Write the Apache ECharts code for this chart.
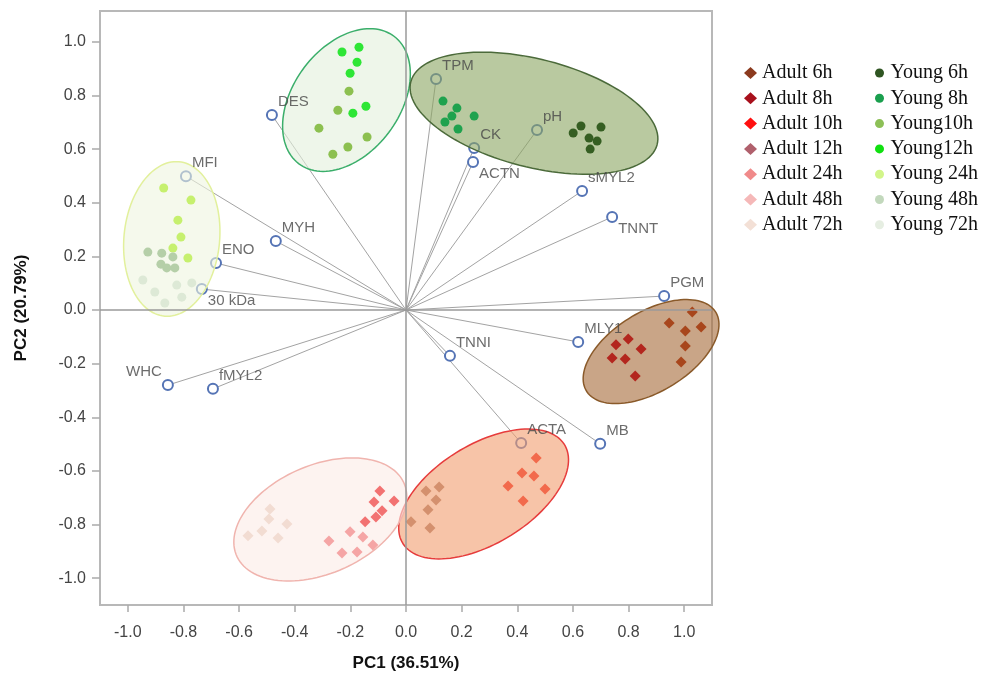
<!DOCTYPE html>
<html><head><meta charset="utf-8">
<script src="https://cdn.jsdelivr.net/npm/echarts@6/dist/echarts.min.js"></script>
<style>html,body{margin:0;padding:0;background:#fff}#c{width:992px;height:677px}</style>
</head><body><div id="c"></div>
<script>
// ---- tick labels ----
const xTicks = [-1.0,-0.8,-0.6,-0.4,-0.2,0.0,0.2,0.4,0.6,0.8,1.0];
const yTicks = [-1.0,-0.8,-0.6,-0.4,-0.2,0.0,0.2,0.4,0.6,0.8,1.0];

// ---- sample scores [PC1, PC2] ----
const adult6h  = [[1.029,-0.007],[0.946,-0.048],[1.004,-0.078],[1.061,-0.063],[1.004,-0.134],[0.989,-0.194]];
const adult8h  = [[0.799,-0.108],[0.755,-0.130],[0.845,-0.145],[0.741,-0.179],[0.788,-0.183],[0.824,-0.246]];
const adult10h = [[0.468,-0.552],[0.417,-0.608],[0.460,-0.619],[0.367,-0.656],[0.500,-0.667],[0.421,-0.712]];
const adult12h = [[0.119,-0.660],[0.072,-0.675],[0.108,-0.708],[0.079,-0.745],[0.018,-0.790],[0.086,-0.813]];
const adult24h = [[-0.094,-0.675],[-0.115,-0.716],[-0.043,-0.712],[-0.086,-0.749],[-0.108,-0.772],[-0.147,-0.790]];
const adult48h = [[-0.201,-0.827],[-0.155,-0.846],[-0.119,-0.876],[-0.277,-0.861],[-0.230,-0.906],[-0.176,-0.902]];
const adult72h = [[-0.489,-0.742],[-0.493,-0.779],[-0.428,-0.798],[-0.518,-0.824],[-0.568,-0.842],[-0.460,-0.850]];
const young6h  = [[0.601,0.660],[0.629,0.686],[0.701,0.682],[0.658,0.641],[0.687,0.630],[0.662,0.600]];
const young8h  = [[0.133,0.779],[0.183,0.753],[0.165,0.723],[0.140,0.701],[0.187,0.675],[0.245,0.723]];
const young10h = [[-0.205,0.816],[-0.245,0.745],[-0.313,0.678],[-0.140,0.645],[-0.209,0.608],[-0.263,0.581]];
const young12h = [[-0.230,0.962],[-0.169,0.980],[-0.176,0.924],[-0.201,0.883],[-0.144,0.760],[-0.191,0.734]];
const young24h = [[-0.871,0.455],[-0.773,0.410],[-0.820,0.335],[-0.809,0.272],[-0.838,0.231],[-0.784,0.194]];
const young48h = [[-0.928,0.216],[-0.878,0.212],[-0.838,0.198],[-0.881,0.171],[-0.860,0.157],[-0.831,0.157]];
const young72h = [[-0.946,0.112],[-0.903,0.067],[-0.867,0.026],[-0.824,0.093],[-0.806,0.048],[-0.770,0.101]];

const adultNames = ['Adult 6h','Adult 8h','Adult 10h','Adult 12h','Adult 24h','Adult 48h','Adult 72h'];
const youngNames = ['Young 6h','Young 8h','Young10h','Young12h','Young 24h','Young 48h','Young 72h'];
const adultData = [adult6h, adult8h, adult10h, adult12h, adult24h, adult48h, adult72h];
const youngData = [young6h, young8h, young10h, young12h, young24h, young48h, young72h];

// ---- variable loadings ----
const loadingNames = ['DES','TPM','CK','ACTN','pH','sMYL2','TNNT','PGM','MLY1','MB','ACTA','TNNI','MFI','MYH','ENO','30 kDa','WHC','fMYL2'];
const loadingPC1 = [-0.482,0.108,0.245,0.241,0.471,0.633,0.741,0.928,0.619,0.698,0.414,0.158,-0.791,-0.468,-0.683,-0.734,-0.856,-0.694];
const loadingPC2 = [0.727,0.861,0.604,0.552,0.671,0.444,0.347,0.052,-0.119,-0.499,-0.496,-0.171,0.499,0.257,0.175,0.078,-0.280,-0.294];

// ---- group confidence ellipses (centre, semi-axes, rotation in degrees) ----
const ellipseCX = [-0.214, 0.460, -0.842, 0.881, 0.279, -0.308];
const ellipseCY = [0.783, 0.734, 0.265, -0.155, -0.686, -0.781];
const ellipseA  = [0.293, 0.458, 0.289, 0.275, 0.344, 0.330];
const ellipseB  = [0.194, 0.201, 0.172, 0.147, 0.183, 0.201];
const ellipseAngle = [56, -15, 85, 33, 33, 25];

// ---- styles ----
const adultColors = ['#a8461c','#b3261e','#f26a4c','#d4906e','#f27272','#f5a5a5','#f2dcd2'];
const youngColors = ['#355e22','#1fa24e','#8cc050','#2ee636','#c6f06e','#b5cfa8','#dde9d6'];
const adultLegendColors = ['#8b3a1e','#a8101c','#ff1010','#b0606c','#f08a8a','#f5b8b8','#f3e0d6'];
const youngLegendColors = ['#2f5522','#1a9f4e','#8dc057','#10e010','#d2f58a','#c2d8bc','#e6eee2'];
const ellipseFill = ['rgba(227,240,220,0.6)','rgba(138,165,97,0.6)','rgba(238,245,223,0.6)','rgba(165,105,55,0.6)','rgba(242,157,110,0.6)','rgba(252,235,230,0.6)'];
const ellipseStroke = ['#3aae6a','#4b6a3a','#e2f09c','#8a5a2a','#e63c3c','#f0b4ae'];
const labelPlace = {ACTN:'br', TNNT:'br', '30 kDa':'br', WHC:'tl'};

const chart = echarts.init(document.getElementById('c'));

const series = [];
// loading lines
series.push({
  type:'custom', z:1, silent:true,
  data: loadingNames.map((n,i)=>[loadingPC1[i], loadingPC2[i]]),
  encode:{x:0,y:1},
  renderItem:(params, api)=>{
    const p0 = api.coord([0,0]);
    const p1 = api.coord([api.value(0), api.value(1)]);
    return {type:'line', shape:{x1:p0[0],y1:p0[1],x2:p1[0],y2:p1[1]}, style:{stroke:'#a3a3a3', lineWidth:1}};
  }
});
// loading circles + zero lines
series.push({
  type:'scatter', z:2, silent:true,
  symbol:'circle', symbolSize:10,
  itemStyle:{color:'#ffffff', borderColor:'#5574b5', borderWidth:2, opacity:1},
  data: loadingNames.map((n,i)=>[loadingPC1[i], loadingPC2[i]]),
  markLine:{silent:true, symbol:'none', label:{show:false},
    lineStyle:{color:'#9a9a9a', width:1.5, type:'solid'},
    data:[{xAxis:0},{yAxis:0}]}
});
// ellipses
series.push({
  type:'custom', z:3, silent:true,
  data: ellipseCX.map((c,i)=>[c, ellipseCY[i], ellipseA[i], ellipseB[i], ellipseAngle[i]]),
  encode:{x:0,y:1},
  renderItem:(params, api)=>{
    const cx=api.value(0), cy=api.value(1), a=api.value(2), b=api.value(3), th=api.value(4)*Math.PI/180;
    const pts=[];
    for(let k=0;k<120;k++){
      const t=k/120*2*Math.PI;
      const x=cx + a*Math.cos(th)*Math.cos(t) - b*Math.sin(th)*Math.sin(t);
      const y=cy + a*Math.sin(th)*Math.cos(t) + b*Math.cos(th)*Math.sin(t);
      pts.push(api.coord([x,y]));
    }
    return {type:'polygon', shape:{points:pts}, style:{fill:ellipseFill[params.dataIndex], stroke:ellipseStroke[params.dataIndex], lineWidth:1.5}};
  }
});
// samples
adultNames.forEach((n,i)=>series.push({name:n, type:'scatter', z:4, symbol:'diamond', symbolSize:11,
  itemStyle:{color:adultColors[i], opacity:1}, data:adultData[i]}));
youngNames.forEach((n,i)=>series.push({name:n, type:'scatter', z:4, symbol:'circle', symbolSize:9,
  itemStyle:{color:youngColors[i], opacity:1}, data:youngData[i]}));
// loading labels
series.push({
  type:'scatter', z:5, silent:true, symbolSize:10, itemStyle:{color:'rgba(0,0,0,0)'},
  data: loadingNames.map((n,i)=>{
    const p = labelPlace[n] || 'tr';
    return {value:[loadingPC1[i], loadingPC2[i]],
      label:{show:true, formatter:n, position: p==='tl'?'left':'right', distance:1,
        offset:[0, p==='br'?12:-13]}};
  }),
  label:{show:true, color:'#474747', fontSize:15, fontFamily:'Liberation Sans, Arial, sans-serif'}
});

const axisLabelStyle = {color:'#444', fontSize:16, fontFamily:'Liberation Sans, Arial, sans-serif'};
chart.setOption({
  animation:false,
  backgroundColor:'#fff',
  grid:{left:100, right:280, top:11, bottom:71, show:true, borderColor:'#b8b8b8', borderWidth:2, backgroundColor:'transparent'},
  xAxis:{type:'value', min:-1.1, max:1.1, splitLine:{show:false},
    axisLine:{show:false, onZero:false},
    axisTick:{show:true, length:7, customValues:xTicks, lineStyle:{color:'#aaa', width:1.5}},
    axisLabel:Object.assign({customValues:xTicks, margin:20, formatter:v=>v.toFixed(1)}, axisLabelStyle),
    name:'PC1 (36.51%)', nameLocation:'middle', nameGap:50,
    nameTextStyle:{fontSize:17, fontWeight:'bold', color:'#111', fontFamily:'Liberation Sans, Arial, sans-serif'}},
  yAxis:{type:'value', min:-1.1, max:1.115, splitLine:{show:false},
    axisLine:{show:false, onZero:false},
    axisTick:{show:true, length:8, customValues:yTicks, lineStyle:{color:'#aaa', width:1.5}},
    axisLabel:Object.assign({customValues:yTicks, margin:14, formatter:v=>v.toFixed(1)}, axisLabelStyle),
    name:'PC2 (20.79%)', nameLocation:'middle', nameGap:70, nameRotate:90,
    nameTextStyle:{fontSize:17, fontWeight:'bold', color:'#111', fontFamily:'Liberation Sans, Arial, sans-serif'}},
  legend:[
    {orient:'vertical', left:739, top:58, itemWidth:13, itemHeight:12, itemGap:5.3,
     data: adultNames.map((n,i)=>({name:n, icon:'diamond', itemStyle:{color:adultLegendColors[i]}})),
     textStyle:{fontFamily:'Liberation Serif, Times New Roman, serif', fontSize:20, lineHeight:20, color:'#111'}},
    {orient:'vertical', left:870, top:58, itemWidth:12, itemHeight:9, itemGap:5.3,
     data: youngNames.map((n,i)=>({name:n, icon:'circle', itemStyle:{color:youngLegendColors[i]}})),
     textStyle:{fontFamily:'Liberation Serif, Times New Roman, serif', fontSize:20, lineHeight:20, color:'#111'}}
  ],
  series
});
</script></body></html>
